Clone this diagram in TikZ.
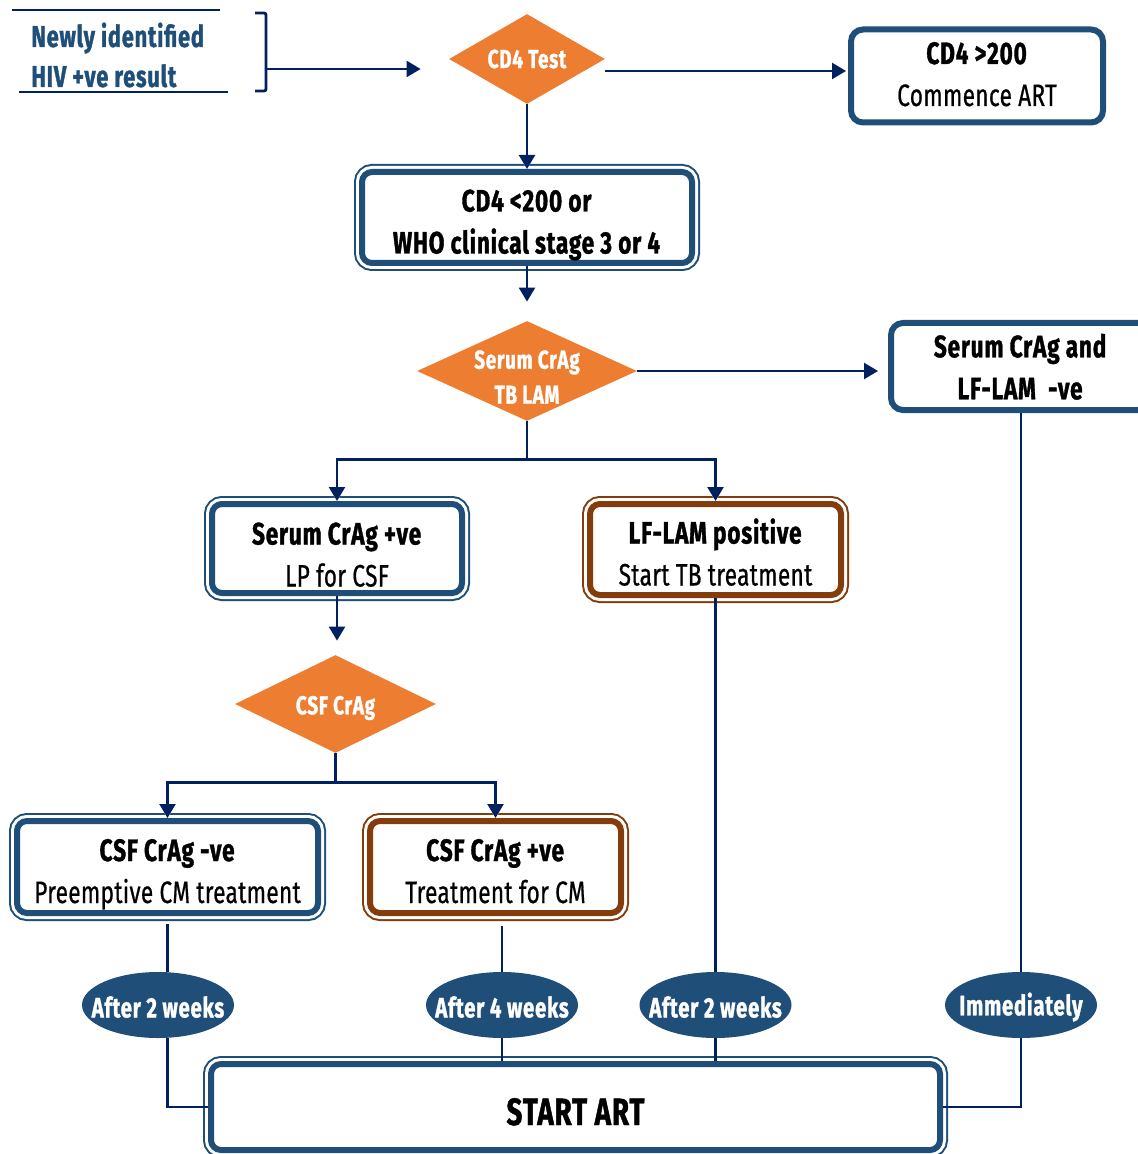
\documentclass[tikz,border=0pt]{standalone}
\usepackage{fontspec}
\setmainfont{Fira Sans}[FakeStretch=0.73, FakeBold=0.6, LetterSpace=1,
  BoldFeatures={FakeBold=1.1, LetterSpace=2.5}]
\usetikzlibrary{arrows.meta,shapes.geometric,positioning}

\definecolor{navy}{RGB}{0,32,96}
\definecolor{steel}{RGB}{31,78,121}
\definecolor{rust}{RGB}{132,60,12}
\definecolor{amber}{RGB}{237,125,49}
\newcommand{\boxfont}{\fontsize{15.5}{21}\selectfont}

\tikzset{
  link/.style={draw=navy, line width=1.2pt},
  flow/.style={link, -{Triangle[length=7pt,width=8pt]}},
  into/.style={flow, preaction={draw=white, line width=2.5pt, -{Triangle[length=9pt,width=11pt]}}},
  sbox/.style={draw=steel, line width=3pt, rounded corners=6pt, fill=white, align=center, inner sep=0pt, font=\boxfont, text depth=2pt},
  dbox/.style={draw=#1, line width=3pt, rounded corners=5pt, fill=white, align=center, inner sep=0pt, font=\boxfont,
    text height=36pt, text depth=0pt,
    preaction={draw=#1, line width=8pt}, preaction={draw=white, line width=6pt}},
  decision/.style={diamond, fill=amber, inner sep=0pt},
  dlabel/.style={text=white, font=\bfseries\fontsize{13}{17.5}\selectfont, align=center, yshift=-2pt},
  delay/.style={ellipse, fill=steel, inner sep=0pt, minimum width=76pt, minimum height=33pt},
  wlabel/.style={text=white, font=\bfseries\fontsize{14}{16}\selectfont, yshift=-1pt},
  intro/.style={text=steel, font=\bfseries\fontsize{15}{20}\selectfont, align=left, inner sep=0pt},
}

\begin{document}
\begin{tikzpicture}[x=0.5pt, y=-0.5pt]
  \useasboundingbox (0,0) rectangle (1137,1154);

  % start
  \node[intro, anchor=west] (new) at (31,55) {Newly identified\\HIV +ve result};
  \draw[link] (12,10) -- (220,10);
  \draw[link] (19,92) -- (228,92);
  \draw[link, line width=1.4pt, rounded corners=1pt] (255,13) -- (266,13) -- (266,91) -- (255,91);
  \coordinate (brk) at (266,69);

  % tests and results
  \node[decision, minimum width=78pt, minimum height=45pt, label={[dlabel, yshift=2pt]center:CD4 Test}] (test) at (527,59) {};
  \node[sbox, minimum width=126pt, minimum height=46.5pt] (hi) at (977,76) {\textbf{CD4 >200}\\Commence ART};
  \node[dbox=steel, minimum width=165pt, minimum height=45.5pt] (low) at (527,217.5) {\textbf{CD4 <200 or}\\\textbf{WHO clinical stage 3 or 4}};
  \node[decision, minimum width=110pt, minimum height=50pt, label={[dlabel, yshift=-1pt]center:Serum CrAg\\TB LAM}] (crag) at (527,371) {};
  \node[sbox, minimum width=129.5pt, minimum height=43.5pt, text depth=0pt] (neg) at (1020.5,366.5) {\textbf{Serum CrAg and}\\\textbf{LF-LAM~~-ve}};
  \node[dbox=steel, minimum width=125pt, minimum height=44.5pt, text height=38pt] (pos) at (337,548.5) {\textbf{Serum CrAg +ve}\\LP for CSF};
  \node[dbox=rust, minimum width=125.5pt, minimum height=45.5pt] (lam) at (715.5,549.5) {\textbf{LF-LAM positive}\\Start TB treatment};
  \node[decision, minimum width=100.5pt, minimum height=49pt, label={[dlabel]center:CSF CrAg}] (csf) at (335.5,704) {};
  \node[dbox=steel, minimum width=150.5pt, minimum height=46pt] (cneg) at (167.5,867) {\textbf{CSF CrAg -ve}\\Preemptive CM treatment};
  \node[dbox=rust, minimum width=125.5pt, minimum height=46pt] (cpos) at (495.5,867) {\textbf{CSF CrAg +ve}\\Treatment for CM};

  % timing
  \node[delay, label={[wlabel]center:After 2 weeks}] (o1) at (158,1005) {};
  \node[delay, label={[wlabel]center:After 4 weeks}] (o2) at (502,1005) {};
  \node[delay, label={[wlabel]center:After 2 weeks}] (o3) at (715.5,1005) {};
  \node[delay, label={[wlabel]center:Immediately}] (o4) at (1021,1005) {};
  \node[dbox=steel, minimum width=364.5pt, minimum height=43pt, text height=18pt, text depth=0pt,
    font=\bfseries\fontsize{19}{22}\selectfont] (start) at (575.5,1107) {START ART};

  % arrows
  \draw[flow] (brk) -- ([xshift=-14pt]brk -| test.west);
  \draw[flow, shorten >=1pt] ([yshift=-6pt]test.east) -- ([yshift=-6pt]test.east -| hi.west);
  \draw[into] (test.south) -- (low.north);
  \draw[flow, shorten >=9.5pt] (low.south) -- (crag.north);
  \draw[flow, shorten >=5pt] (crag.east) -- (crag.east -| neg.west);
  \path (crag.south) ++(0,38) coordinate (fork);
  \draw[into] (fork) -| (pos.north);
  \draw[into] (fork) -| (lam.north);
  \draw[link] (crag.south) -- (fork);
  \draw[flow, shorten >=7pt] (pos.south) -- (pos.south |- csf.north);
  \path (csf.south) ++(0,29) coordinate (split);
  \draw[into] (split) -| (cneg.north);
  \draw[into] (split) -| (cpos.north);
  \draw[link] (csf.south) -- (split);

  % to art
  \draw[link, shorten <=4pt] (cneg.south) -- (cneg.south |- o1.north);
  \draw[link] (o1.south -| cneg.south) |- (start.west);
  \draw[link, shorten <=5pt] (cpos.south -| o2.north) -- (o2.north);
  \draw[link] (o2.south) -- (o2.south |- start.north);
  \draw[link] (lam.south) -- (o3.north);
  \draw[link] (o3.south) -- (o3.south |- start.north);
  \draw[link] (neg.south -| o4.north) -- (o4.north);
  \draw[link] (o4.south) |- (start.east);
\end{tikzpicture}
\end{document}
